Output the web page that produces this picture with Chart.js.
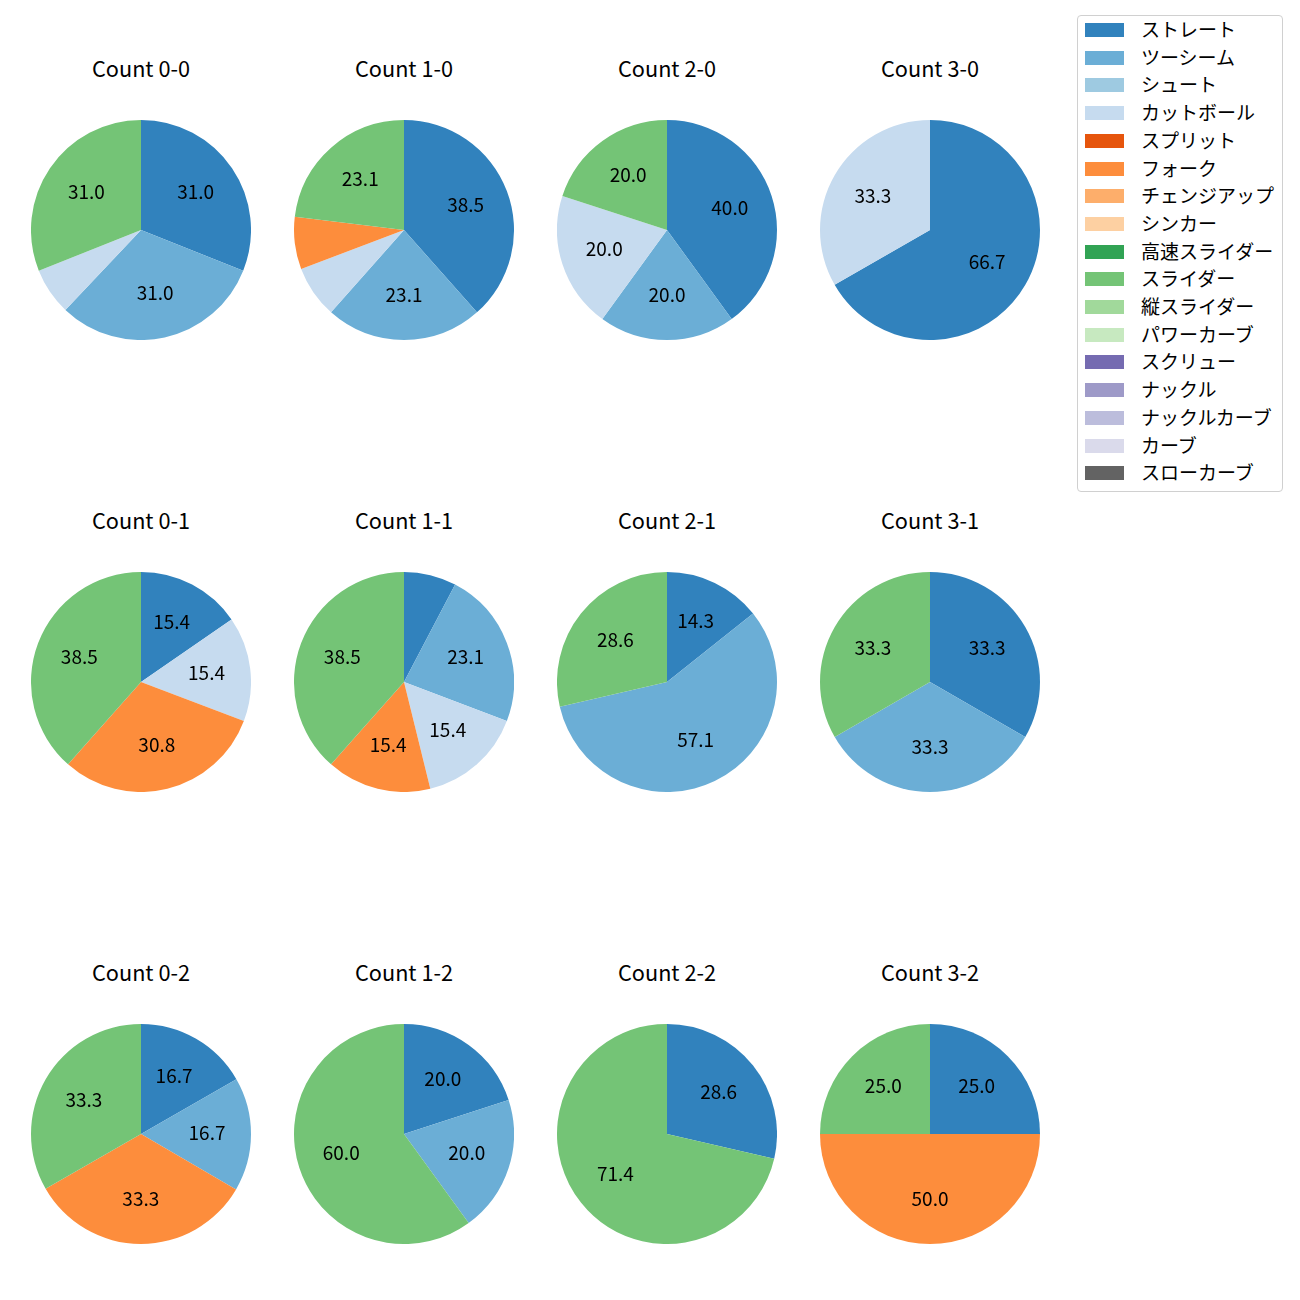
<!DOCTYPE html>
<html><head><meta charset="utf-8">
<script src="https://cdn.jsdelivr.net/npm/chart.js@4.4.1/dist/chart.umd.min.js"></script>
<style>
html,body{margin:0;padding:0;background:#fff;}
body{width:1300px;height:1300px;position:relative;overflow:hidden;font-family:"Noto Sans CJK JP","Noto Sans",sans-serif;color:#000;}
canvas.pie{position:absolute;}
.title{position:absolute;width:260px;text-align:center;font-size:21.7px;line-height:26px;height:26px;white-space:nowrap;}
#legend{position:absolute;left:1077px;top:15px;width:206px;height:477px;border:1px solid #d0d0d0;border-radius:4px;box-sizing:border-box;background:#fff;}
.row{position:absolute;left:0;height:28px;width:100%;}
.sw{position:absolute;left:7px;top:7px;width:39px;height:14px;}
.lt{position:absolute;left:63px;top:-1px;font-size:19px;line-height:28px;height:28px;white-space:nowrap;}
</style></head><body>
<div id="legend"></div>
<script>
// ---- data ----
const pitchTypes = ['ストレート','ツーシーム','シュート','カットボール','スプリット','フォーク','チェンジアップ','シンカー','高速スライダー','スライダー','縦スライダー','パワーカーブ','スクリュー','ナックル','ナックルカーブ','カーブ','スローカーブ'];
const pitchColors = ['#3182bd','#6baed6','#9ecae1','#c6dbef','#e6550d','#fd8d3c','#fdae6b','#fdd0a2','#31a354','#74c476','#a1d99b','#c7e9c0','#756bb1','#9e9ac8','#bcbddc','#dadaeb','#636363'];
const countTitles = ['Count 0-0','Count 1-0','Count 2-0','Count 3-0','Count 0-1','Count 1-1','Count 2-1','Count 3-1','Count 0-2','Count 1-2','Count 2-2','Count 3-2'];
//                 Str  2S   Sht  Cut  Spl  Frk  Chg  Snk  HSl  Sld  VSl  PCv  Scr  Knk  KCv  Crv  SCv
const count00 = [31.0,31.0, 0,   6.9, 0,   0,   0,   0,   0,  31.0, 0,   0,   0,   0,   0,   0,   0];
const count10 = [38.5,23.1, 0,   7.7, 0,   7.7, 0,   0,   0,  23.1, 0,   0,   0,   0,   0,   0,   0];
const count20 = [40.0,20.0, 0,  20.0, 0,   0,   0,   0,   0,  20.0, 0,   0,   0,   0,   0,   0,   0];
const count30 = [66.7, 0,   0,  33.3, 0,   0,   0,   0,   0,   0,   0,   0,   0,   0,   0,   0,   0];
const count01 = [15.4, 0,   0,  15.4, 0,  30.8, 0,   0,   0,  38.5, 0,   0,   0,   0,   0,   0,   0];
const count11 = [ 7.7,23.1, 0,  15.4, 0,  15.4, 0,   0,   0,  38.5, 0,   0,   0,   0,   0,   0,   0];
const count21 = [14.3,57.1, 0,   0,   0,   0,   0,   0,   0,  28.6, 0,   0,   0,   0,   0,   0,   0];
const count31 = [33.3,33.3, 0,   0,   0,   0,   0,   0,   0,  33.3, 0,   0,   0,   0,   0,   0,   0];
const count02 = [16.7,16.7, 0,   0,   0,  33.3, 0,   0,   0,  33.3, 0,   0,   0,   0,   0,   0,   0];
const count12 = [20.0,20.0, 0,   0,   0,   0,   0,   0,   0,  60.0, 0,   0,   0,   0,   0,   0,   0];
const count22 = [28.6, 0,   0,   0,   0,   0,   0,   0,   0,  71.4, 0,   0,   0,   0,   0,   0,   0];
const count32 = [25.0, 0,   0,   0,   0,  50.0, 0,   0,   0,  25.0, 0,   0,   0,   0,   0,   0,   0];
const countData = [count00,count10,count20,count30,count01,count11,count21,count31,count02,count12,count22,count32];

// ---- layout ----
const colX = [141, 404, 667, 930];
const rowY = [230, 682, 1134];
const titleOffset = 161;
const R = 110;

const pctLabels = {
  id: 'pctLabels',
  afterDatasetsDraw(chart) {
    const ctx = chart.ctx;
    const meta = chart.getDatasetMeta(0);
    const vals = chart.data.datasets[0].data;
    ctx.save();
    ctx.font = '19px "Noto Sans CJK JP"';
    ctx.fillStyle = '#000';
    ctx.textAlign = 'center';
    ctx.textBaseline = 'middle';
    meta.data.forEach((arc, i) => {
      const v = vals[i];
      if (!(v >= 10)) return;
      const p = arc.getProps(['x','y','startAngle','endAngle','outerRadius'], true);
      const mid = (p.startAngle + p.endAngle) / 2;
      ctx.fillText(v.toFixed(1), p.x + Math.cos(mid) * p.outerRadius * 0.6, p.y + Math.sin(mid) * p.outerRadius * 0.6 - 1.5);
    });
    ctx.restore();
  }
};

countData.forEach((vals, k) => {
  const cx = colX[k % 4], cy = rowY[Math.floor(k / 4)];
  const t = document.createElement('div');
  t.className = 'title';
  t.textContent = countTitles[k];
  t.style.left = (cx - 130) + 'px';
  t.style.top = (cy - titleOffset - 14) + 'px';
  document.body.appendChild(t);
  const c = document.createElement('canvas');
  c.className = 'pie';
  c.width = 2 * R; c.height = 2 * R;
  c.style.left = (cx - R) + 'px';
  c.style.top = (cy - R) + 'px';
  c.style.width = 2 * R + 'px'; c.style.height = 2 * R + 'px';
  document.body.appendChild(c);
  new Chart(c, {
    type: 'pie',
    data: {
      labels: pitchTypes,
      datasets: [{ data: vals, backgroundColor: pitchColors, borderWidth: 0, hoverBorderWidth: 0, offset: 0, hoverOffset: 0 }]
    },
    options: {
      responsive: false, maintainAspectRatio: false, devicePixelRatio: 1, animation: false,
      events: [], layout: { padding: 0 },
      rotation: 0, circumference: 360,
      plugins: { legend: { display: false }, tooltip: { enabled: false }, title: { display: false } }
    },
    plugins: [pctLabels]
  });
});

// ---- legend ----
const lg = document.getElementById('legend');
pitchTypes.forEach((name, i) => {
  const r = document.createElement('div');
  r.className = 'row';
  r.style.top = (i * 27.7) + 'px';
  const s = document.createElement('div');
  s.className = 'sw'; s.style.background = pitchColors[i];
  const l = document.createElement('div');
  l.className = 'lt'; l.textContent = name;
  r.appendChild(s); r.appendChild(l);
  lg.appendChild(r);
});
</script>
</body></html>
